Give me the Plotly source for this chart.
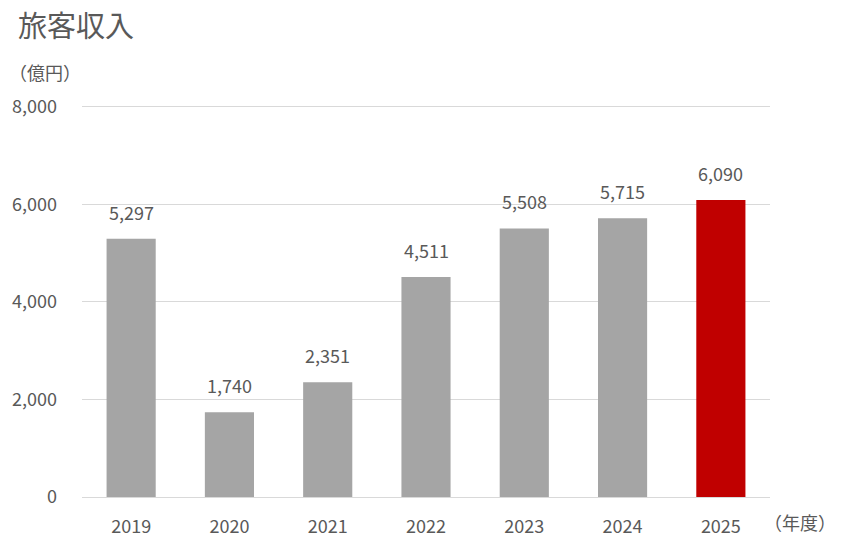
import plotly.graph_objects as go

years = ["2019", "2020", "2021", "2022", "2023", "2024", "2025"]
revenue = [5297, 1740, 2351, 4511, 5508, 5715, 6090]
colors = ["#a5a5a5"] * 6 + ["#c00000"]
y_ticks = [0, 2000, 4000, 6000, 8000]
y_tick_labels = ["0", "2,000", "4,000", "6,000", "8,000"]

FONT = "Noto Sans CJK JP"
GREY = "#595959"

fig = go.Figure(go.Bar(
    x=years, y=revenue, marker=dict(color=colors, line=dict(width=0)),
    width=0.5, hoverinfo="skip",
))

for i, v in enumerate(revenue):
    fig.add_annotation(x=i, y=v, text=f"{v:,}", showarrow=False,
                       yanchor="bottom", yshift=12,
                       font=dict(family=FONT, size=18, color=GREY))

fig.add_annotation(xref="paper", x=(45 - 82) / 688, yref="y", y=8000, yshift=20,
                   text="（億円）", showarrow=False, xanchor="center", yanchor="bottom",
                   font=dict(family=FONT, size=18, color=GREY))
fig.add_annotation(xref="paper", yref="paper", x=1.0, y=0, yshift=-25, xshift=-8,
                   text="（年度）", showarrow=False, xanchor="left", yanchor="middle",
                   font=dict(family=FONT, size=18, color=GREY))

fig.update_layout(
    width=863, height=542,
    margin=dict(l=82, r=93, t=102, b=45),
    paper_bgcolor="white", plot_bgcolor="white",
    showlegend=False,
    title=dict(text="旅客収入", x=18/863, xanchor="left", y=1 - 27/542, yanchor="middle",
               font=dict(family=FONT, size=29, color=GREY)),
    xaxis=dict(type="category", range=[-0.5, 6.5], showgrid=False, showline=True,
               linecolor="#d9d9d9", linewidth=1,
               ticks="", tickfont=dict(family=FONT, size=18, color=GREY),
               ticklabelstandoff=13, automargin=False, fixedrange=True),
    yaxis=dict(range=[0, 8100], tickvals=y_ticks, ticktext=y_tick_labels,
               showgrid=True, gridcolor="#d9d9d9", gridwidth=1, zeroline=False,
               showline=False, ticks="",
               tickfont=dict(family=FONT, size=18, color=GREY),
               ticklabelstandoff=24, automargin=False, fixedrange=True),
)

fig.write_html("out.html")
